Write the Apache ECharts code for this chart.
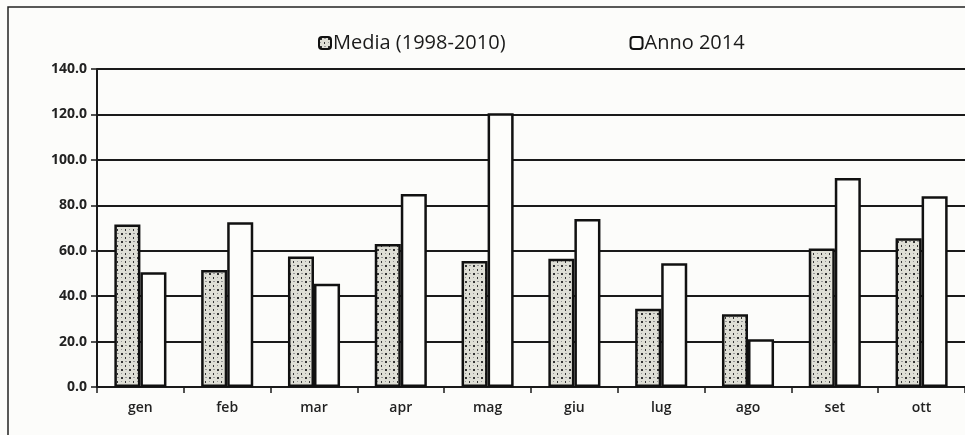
<!DOCTYPE html>
<html>
<head>
<meta charset="utf-8">
<script src="https://cdn.jsdelivr.net/npm/echarts@6/dist/echarts.min.js"></script>
<style>
  html, body { margin: 0; padding: 0; background: #fcfcfa; }
  #chart { width: 965px; height: 435px; }
</style>
</head>
<body>
<div id="chart"></div>
<script>
// data
const months = ['gen', 'feb', 'mar', 'apr', 'mag', 'giu', 'lug', 'ago', 'set', 'ott']
const media = [71.5, 51.5, 57.5, 63.0, 55.5, 56.5, 34.5, 32.0, 61.0, 65.5]
const anno2014 = [50.5, 72.5, 45.5, 85.0, 120.5, 74.0, 54.5, 21.0, 92.0, 84.0]
const seriesNames = ['Media (1998-2010)', 'Anno 2014']

// dotted fill like the printed pattern
function dotPattern() {
  const c = document.createElement('canvas')
  c.width = 8
  c.height = 8
  const ctx = c.getContext('2d')
  ctx.fillStyle = '#dfdfd6'
  ctx.fillRect(0, 0, 8, 8)
  ctx.fillStyle = '#333'
  ctx.fillRect(1, 1, 2, 2)
  ctx.fillRect(5, 5, 1, 2)
  ctx.fillStyle = '#999'
  ctx.fillRect(5, 1, 2, 1)
  ctx.fillRect(1, 5, 1, 1)
  return c
}

const chart = echarts.init(document.getElementById('chart'))
chart.setOption({
  backgroundColor: '#fcfcfa',
  animation: false,
  textStyle: { fontFamily: 'Open Sans' },
  graphic: [
    {
      type: 'rect',
      shape: { x: 8, y: 7, width: 1000, height: 500 },
      style: { fill: 'none', stroke: '#222', lineWidth: 1.5 },
      silent: true
    }
  ],
  legend: {
    data: seriesNames,
    top: 28,
    left: 313,
    itemWidth: 12,
    itemHeight: 12,
    itemGap: 124,
    textStyle: { fontSize: 20, color: '#1a1a1a', padding: [0, 0, 0, -3] }
  },
  grid: {
    left: 97,
    right: -12,
    top: 69,
    bottom: 48
  },
  xAxis: {
    type: 'category',
    data: months,
    axisLine: { lineStyle: { color: '#1a1a1a', width: 2 } },
    axisTick: { show: true, length: 6, lineStyle: { color: '#1a1a1a', width: 1.5 } },
    axisLabel: { fontSize: 14, fontWeight: 600, color: '#222', margin: 14 }
  },
  yAxis: {
    type: 'value',
    min: 0,
    max: 140,
    interval: 20,
    axisLine: { show: true, lineStyle: { color: '#1a1a1a', width: 2 } },
    axisTick: { show: true, length: 6, lineStyle: { color: '#1a1a1a', width: 1.5 } },
    axisLabel: {
      fontSize: 14,
      fontWeight: 'bold',
      color: '#222',
      margin: 10,
      formatter: v => v.toFixed(1)
    },
    splitLine: { lineStyle: { color: '#1a1a1a', width: 2 } }
  },
  series: [
    {
      name: seriesNames[0],
      type: 'bar',
      data: media,
      barGap: '0%',
      barCategoryGap: '40%',
      itemStyle: {
        color: { image: dotPattern(), repeat: 'repeat' },
        borderColor: '#111',
        borderWidth: 2.5
      }
    },
    {
      name: seriesNames[1],
      type: 'bar',
      data: anno2014,
      itemStyle: {
        color: '#fdfdfb',
        borderColor: '#111',
        borderWidth: 2.5
      }
    }
  ]
})
</script>
</body>
</html>
